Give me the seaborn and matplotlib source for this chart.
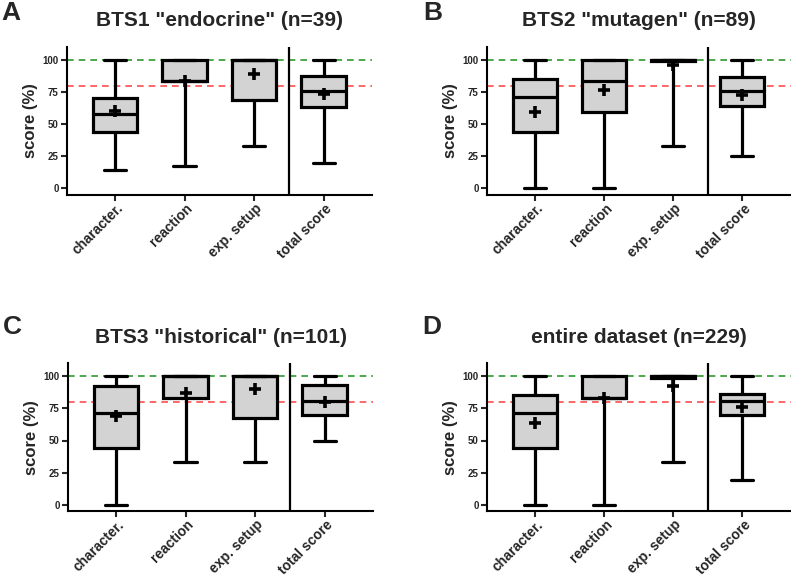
import numpy as np
import pandas as pd
import seaborn as sns
import matplotlib.pyplot as plt
import matplotlib.transforms as mtransforms

categories = ["character.", "reaction", "exp. setup", "total score"]
panel_letters = ["A", "B", "C", "D"]
panel_titles = ['BTS1 "endocrine" (n=39)', 'BTS2 "mutagen" (n=89)',
                'BTS3 "historical" (n=101)', 'entire dataset (n=229)']

# box summaries (min, q1, median, q3, max) + mean, per category
bts1_min = [14.3, 17.4, 33.3, 19.5]
bts1_q1 = [43.9, 83.3, 68.8, 63.6]
bts1_med = [57.7, 83.3, 100, 75.8]
bts1_q3 = [70.1, 100, 100, 87.5]
bts1_max = [100, 100, 100, 100]
bts1_mean = [60.3, 83.6, 89.1, 73.8]

bts2_min = [0, 0, 33.3, 25.3]
bts2_q1 = [43.9, 59.8, 99.0, 64.2]
bts2_med = [71.3, 83.6, 100, 76.0]
bts2_q3 = [85.1, 100, 100, 86.9]
bts2_max = [100, 100, 100, 100]
bts2_mean = [59.5, 76.5, 96.1, 73.1]

bts3_min = [0, 33.3, 33.3, 50.0]
bts3_q1 = [43.8, 83.3, 67.6, 69.7]
bts3_med = [71.2, 100, 100, 81.1]
bts3_q3 = [92.2, 100, 100, 93.0]
bts3_max = [100, 100, 100, 100]
bts3_mean = [69.4, 87.0, 90.4, 80.1]

all_min = [0, 0, 33.3, 19.4]
all_q1 = [43.8, 83.3, 99.0, 69.7]
all_med = [71.2, 83.3, 100, 81.1]
all_q3 = [85.2, 100, 100, 86.5]
all_max = [100, 100, 100, 100]
all_mean = [63.7, 83.0, 92.2, 75.9]

panels = [
    (bts1_min, bts1_q1, bts1_med, bts1_q3, bts1_max, bts1_mean),
    (bts2_min, bts2_q1, bts2_med, bts2_q3, bts2_max, bts2_mean),
    (bts3_min, bts3_q1, bts3_med, bts3_q3, bts3_max, bts3_mean),
    (all_min, all_q1, all_med, all_q3, all_max, all_mean),
]

sns.set_style("ticks")
plt.rcParams['font.family'] = ['Liberation Sans', 'DejaVu Sans']
plt.rcParams['font.weight'] = 'bold'
plt.rcParams['axes.labelweight'] = 'bold'
plt.rcParams['axes.titleweight'] = 'bold'

fig = plt.figure(figsize=(7.91, 5.75), dpi=100)

ax_pos = [
    [0.0847, 0.661, 0.386, 0.257],
    [0.6157, 0.661, 0.384, 0.257],
    [0.0860, 0.111, 0.386, 0.257],
    [0.6157, 0.111, 0.384, 0.257],
]
letter_pos = [(0.002, 0.998), (0.535, 0.998), (0.004, 0.452), (0.534, 0.452)]

for i, (mn, q1, md, q3, mx, mean) in enumerate(panels):
    ax = fig.add_axes(ax_pos[i])
    rows = []
    for c, cat in enumerate(categories):
        # five values give exactly these quartiles with linear percentiles
        for v in [mn[c], q1[c], md[c], q3[c], mx[c]]:
            rows.append({'category': cat, 'score': v})
    df = pd.DataFrame(rows)

    ax.axhline(100, color='#2e9a2e', ls=(0, (4, 3)), lw=1.2, zorder=0.5)
    ax.axhline(80, color='#ff4d4d', ls=(0, (4, 3)), lw=1.2, zorder=0.5)

    sns.boxplot(data=df, x='category', y='score', order=categories,
                whis=(0, 100), width=0.64, color='#d3d3d3', saturation=1,
                linecolor='black', linewidth=2.3, showfliers=False, ax=ax)

    sns.pointplot(x=categories, y=mean, order=categories, color='black',
                  marker='+', linestyle='none', errorbar=None,
                  markersize=8, markeredgewidth=2.6, ax=ax, zorder=6)

    ax.axvline(2.5, color='black', lw=1.6, zorder=3)

    ax.set_xlim(-0.69, 3.7)
    ax.set_ylim(-5, 110)
    ax.set_yticks([0, 25, 50, 75, 100])
    ax.tick_params(axis='y', labelsize=7, width=1.5, length=4, pad=2)
    ax.tick_params(axis='x', width=1.5, length=4, pad=2)
    ax.set_xticks(range(len(categories)))
    ax.set_xticklabels(categories, rotation=45, ha='right', va='center',
                       rotation_mode='anchor', fontsize=10, fontweight='bold')
    offset = mtransforms.ScaledTranslation(6 / 100, -3 / 100, fig.dpi_scale_trans)
    for lab in ax.get_xticklabels():
        lab.set_transform(lab.get_transform() + offset)
    for lab in ax.get_yticklabels():
        lab.set_fontweight('bold')

    ax.set_xlabel('')
    ax.set_ylabel('score (%)', fontsize=12, fontweight='bold', labelpad=3)
    ax.set_title(panel_titles[i], fontsize=15, fontweight='bold', pad=15)

    sns.despine(ax=ax)
    for s in ['left', 'bottom']:
        ax.spines[s].set_linewidth(1.5)
        ax.spines[s].set_color('black')

    fig.text(letter_pos[i][0], letter_pos[i][1], panel_letters[i],
             fontsize=19, fontweight='bold', va='top', ha='left')

fig.savefig('out.png', dpi=100)
